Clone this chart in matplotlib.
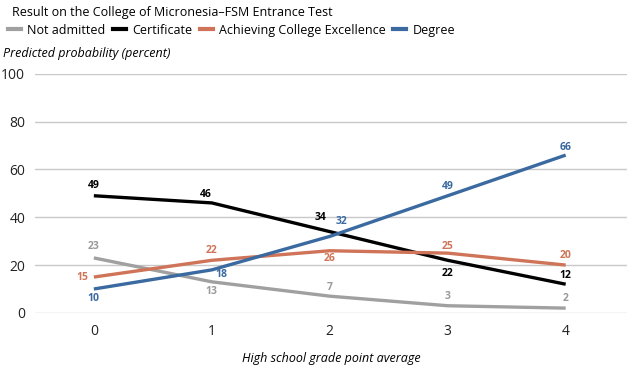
import matplotlib
matplotlib.use("Agg")
import matplotlib.pyplot as plt
from matplotlib.lines import Line2D

plt.rcParams['font.family'] = ['Open Sans', 'DejaVu Sans']

# data
gpa = [0, 1, 2, 3, 4]
series_names = ["Not admitted", "Certificate", "Achieving College Excellence", "Degree"]
not_admitted = [23, 13, 7, 3, 2]
certificate = [49, 46, 34, 22, 12]
ace = [15, 22, 26, 25, 20]
degree = [10, 18, 32, 49, 66]
y_ticks = [0, 20, 40, 60, 80, 100]

colors = ["#a0a0a0", "#000000", "#cf7458", "#3a6aa0"]
label_colors = ["#9a9a9a", "#000000", "#cf7458", "#3a6aa0"]
# label offsets in pixels (dx, dy) for each point
offsets = [
    [(0, 11), (0, -10), (0, 9), (0, 9), (0, 10)],
    [(0, 10), (-6, 8), (-9, 14), (0, -13), (0, 9)],
    [(-12, 0), (0, 10), (0, -8), (0, 7), (0, 10)],
    [(0, -9), (10, -5), (12, 15), (0, 9), (0, 8)],
]

fig = plt.figure(figsize=(6.34, 3.69), dpi=100)
ax = fig.add_axes([0.055, 0.152, 0.934, 0.648])

all_series = [not_admitted, certificate, ace, degree]
for vals, col, lcol, offs in zip(all_series, colors, label_colors, offsets):
    ax.plot(gpa, vals, color=col, lw=2.4, solid_joinstyle='round', solid_capstyle='butt', zorder=3)
    for x, v, (dx, dy) in zip(gpa, vals, offs):
        ax.annotate(str(v), (x, v), xytext=(dx, dy), textcoords='offset pixels',
                    ha='center', va='center', fontsize=7.5, fontweight='bold', color=lcol, zorder=4)

ax.set_xlim(-0.5, 4.52)
ax.set_ylim(0, 100)
ax.set_yticks(y_ticks)
ax.set_xticks(gpa)
ax.grid(axis='y', color='#c8c8c8', lw=1)
ax.set_axisbelow(True)
for s in ax.spines.values():
    s.set_visible(False)
ax.tick_params(axis='both', length=0, labelsize=10, colors='#222222')
ax.tick_params(axis='y', pad=7)
ax.tick_params(axis='x', pad=8)
ax.set_xlabel("High school grade point average", fontstyle='italic', fontsize=9, labelpad=9)

fig.text(0.019, 0.965, "Result on the College of Micronesia\u2013FSM Entrance Test", fontsize=9, va='center', ha='left')
fig.text(0.005, 0.856, "Predicted probability (percent)", fontsize=9, fontstyle='italic', va='center', ha='left')

handles = [Line2D([], [], color=c, lw=3) for c in colors]
fig.legend(handles, series_names, loc='center left', bbox_to_anchor=(0.012, 0.918), ncol=4,
           frameon=False, fontsize=9, handlelength=1.05, handletextpad=0.5, columnspacing=0.6,
           borderaxespad=0, borderpad=0)

fig.savefig("out.png", dpi=100)
